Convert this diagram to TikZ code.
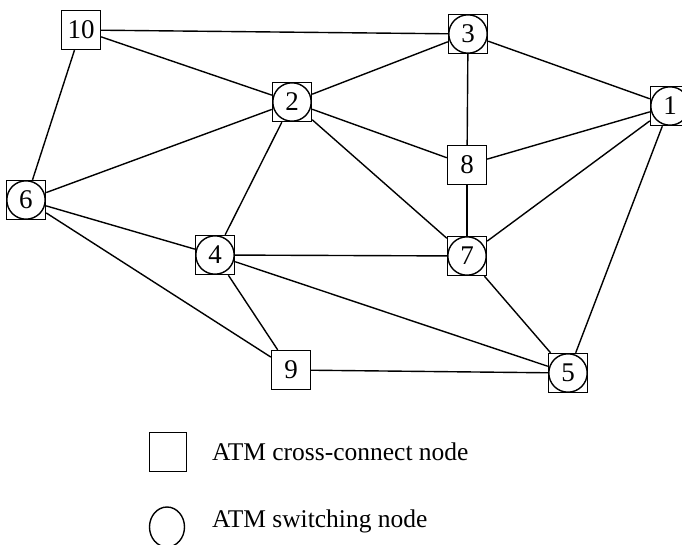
\documentclass[tikz,border=0pt]{standalone}
\usepackage{fontspec}
\usetikzlibrary{shapes.geometric}
\setmainfont{Liberation Serif}
\begin{document}
\begin{tikzpicture}[x=1pt,y=-1pt,
  xc/.style={draw, line width=1.4pt, minimum width=39pt, minimum height=39pt, inner sep=0pt,
    font=\fontsize{27}{27}\selectfont},
  sw/.style={xc, path picture={\draw[line width=1.4pt] (path picture bounding box.center) circle (19.2pt);}},
  link/.style={line width=1.4pt},
  legtext/.style={anchor=base west, inner sep=0pt, font=\fontsize{25.5}{25.5}\selectfont}
]
\useasboundingbox (0,0) rectangle (682,545);
\node[xc] (n10) at (81,30) {10};
\node[sw] (n3) at (468,34) {3};
\node[sw] (n2) at (292,102) {2};
\node[sw] (n1) at (670,106) {1};
\node[xc] (n8) at (467,165) {8};
\node[sw] (n6) at (26,200) {6};
\node[sw] (n4) at (215,255) {4};
\node[sw] (n7) at (467,256) {7};
\node[xc] (n9) at (291,370) {9};
\node[sw] (n5) at (568,373) {5};

\draw[link] (n10) -- (n3);
\draw[link] (n10) -- (n2);
\draw[link] (n10) -- (n6);
\draw[link] (n2) -- (n3);
\draw[link] (n2) -- (n8);
\draw[link] (n2) -- (n7);
\draw[link] (n2) -- (n6);
\draw[link] (n2) -- (n4);
\draw[link] (n3) -- (n1);
\draw[link] (n3) -- (n8);
\draw[link] (n8) -- (n1);
\draw[link] (n8) -- (n7);
\draw[link] (n1) -- (n7);
\draw[link] (n1) -- (n5);
\draw[link] (n6) -- (n4);
\draw[link] (n6) -- (n9);
\draw[link] (n4) -- (n7);
\draw[link] (n4) -- (n9);
\draw[link] (n4) -- (n5);
\draw[link] (n7) -- (n5);
\draw[link] (n9) -- (n5);

\node[draw, line width=1.4pt, minimum width=37pt, minimum height=39pt, inner sep=0pt] (legsq) at (168,452) {};
\node[draw, line width=1.4pt, ellipse, minimum width=35pt, minimum height=40pt, inner sep=0pt] (legci) at (167,527) {};
\node[legtext] (legt1) at (212,460) {ATM cross-connect node};
\node[legtext] (legt2) at (212,527) {ATM switching node};
\end{tikzpicture}
\end{document}
